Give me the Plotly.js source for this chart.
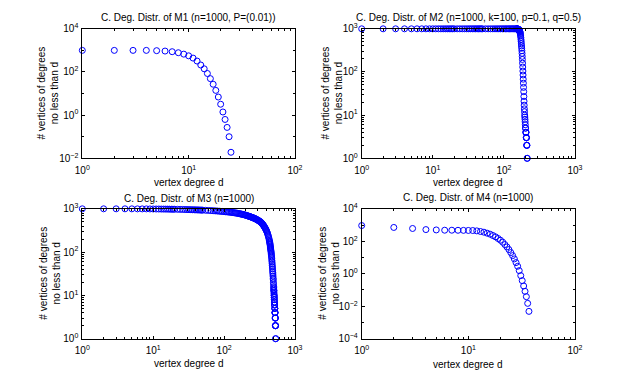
<!DOCTYPE html>
<html><head><meta charset="utf-8">
<script src="https://cdn.plot.ly/plotly-3.0.1.min.js"></script>
<style>html,body{margin:0;padding:0;background:#fff}#chart{width:635px;height:382px}</style>
</head><body><div id="chart"></div>
<script>
// ---------- data ----------
const m1Deg = [1,2,3,4,5,6,7,8,9,10,11,12,13,14,15,16,17,18,19,20,21,22,23,24,25];
const m1Count = [1000,1000,1000,1000,970,930,870,780,670,560,440,320,210,140,85,49,27,14,6.9,3.2,1.4,0.63,0.27,0.10,0.019];

const m2Deg = [1,2,3,4,5,6,7,8,9,10,11,12,13,14,15,16,17,18,19,20,
  22,24,26,28,30,32,34,36,38,40,42,44,46,48,50,
  55,60,65,70,75,80,85,90,95,100,105,110,115,120,125,130,135,140,145,150,
  151,152,153,154,155,156,157,158,159,160,161,162,163,164,165,166,167,168,169,170,
  171,172,173,174,175,176,177,178,179,180,181,182,183,184,185,186,187,188,189,190,
  191,192,193,194,195,196,197,198,199,200,201,202,203,204,205,206,207,208,209,210,
  211,212,213];
const m2Count = [1000,1000,1000,1000,1000,1000,1000,1000,1000,1000,1000,1000,1000,1000,1000,1000,1000,1000,1000,1000,
  1000,1000,1000,1000,1000,1000,1000,1000,1000,1000,1000,1000,1000,1000,1000,
  1000,1000,1000,1000,1000,1000,1000,1000,1000,1000,1000,1000,1000,1000,1000,1000,1000,1000,999,998,
  997,996,995,993,991,988,985,981,976,970,963,955,945,933,920,902,880,855,820,780,
  735,685,625,560,505,450,400,355,310,270,230,195,160,130,105,85,68,55,44,35,
  27,21,17,14,12,10,9,8,7,6,5,5,4,4,4,3,3,3,2,2,
  2,1,1];

const m3Deg = [1,2,3,4,5,6,7,8,9,10,11,12,13,14,15,16,17,18,19,20,
  22,24,26,28,30,32,34,36,38,40,42,44,46,48,50,
  55,60,65,70,75,80,85,90,95,100,105,110,115,120,125,130,135,140,145,150,
  155,160,165,170,175,180,185,190,195,200,205,210,215,220,225,230,235,240,245,250,
  255,260,265,270,275,280,285,290,295,300,305,310,315,320,325,330,335,340,345,350,
  355,360,365,370,375,380,385,390,395,400,405,410,415,420,425,430,435,438,
  440,442,444,446,448,450,452,454,456,458,460,462,464,466,468,470,472,474,476,478,480,
  482,484,486,488,490,492,494,496,498,500,
  501,502,503,504,505,506,507,508,509,510,511,512,513,514,515,516,517,518,519,520,
  521,522,523,524,525,526,527,528,529,530,531,532,533,534];
const m3Count = [1000,1000,999,999,998,997,996,995,993,991,989,988,986,985,983,982,980,978,977,975,
  972,969,966,963,960,957,954,951,948,945,942,939,936,933,930,
  923,916,909,902,895,888,881,874,867,860,854,848,842,836,830,823,816,809,802,795,
  787,779,771,763,755,747,739,731,723,715,706,697,688,679,670,662,654,646,638,630,
  622,614,606,598,590,581,572,563,554,545,536,527,518,509,500,488,476,464,452,440,
  426,412,398,384,370,356,342,328,314,300,284,268,251,235,219,203,186,177,
  170,162,154,146,138,130,124,118,112,106,100,94,88,82,76,70,64,59,54,49,45,
  41,37,34,31,28,25,23,20,18,16,
  15,14,13,13,12,11,10,10,9,9,8,8,7,7,6,6,6,5,5,5,
  4,4,4,4,3,3,3,3,2,2,2,2,1,1];

const m4Deg = [1,2,3,4,5,6,7,8,9,10,11,12,13,14,15,16,17,18,19,20,21,22,23,24,25,26,27,28,29,30,31,32,33,34,35,36,37];
const m4Count = [930,710,615,525,500,480,480,475,470,465,459,438,400,362,315,273,226,187,148,116,
  87.6,62.8,45,30.8,20.1,13.1,8.2,4.86,2.89,1.56,0.767,0.377,0.177,0.083,0.0387,0.015,0.00482];

// ---------- tick labels ----------
const xTicks2 = [1, 10, 100];
const xLabels2 = ['10<sup>0</sup>', '10<sup>1</sup>', '10<sup>2</sup>'];
const xTicks3 = [1, 10, 100, 1000];
const xLabels3 = ['10<sup>0</sup>', '10<sup>1</sup>', '10<sup>2</sup>', '10<sup>3</sup>'];
const yTicksM1 = [0.01, 1, 100, 10000];
const yLabelsM1 = ['10<sup>\u22122</sup>', '10<sup>0</sup>', '10<sup>2</sup>', '10<sup>4</sup>'];
const yTicks3 = [1, 10, 100, 1000];
const yLabels3 = ['10<sup>0</sup>', '10<sup>1</sup>', '10<sup>2</sup>', '10<sup>3</sup>'];
const yTicksM4 = [0.0001, 0.01, 1, 100, 10000];
const yLabelsM4 = ['10<sup>\u22124</sup>', '10<sup>\u22122</sup>', '10<sup>0</sup>', '10<sup>2</sup>', '10<sup>4</sup>'];

const plotTitles = [
  'C. Deg. Distr. of M1 (n=1000, P=(0.01))',
  'C. Deg. Distr. of M2 (n=1000, k=100, p=0.1, q=0.5)',
  'C. Deg. Distr. of M3 (n=1000)',
  'C. Deg. Distr. of M4 (n=1000)'
];
const xTitleText = 'vertex degree d';
const yTitleText = '# vertices of degrees<br>no less than d';

// ---------- layout ----------
const FONT = 'Liberation Sans, Arial, Helvetica, sans-serif';
const W = 635, H = 382;
const colL = [82.3 / W, 295 / W];
const colR = [361.7 / W, 575 / W];
const rowT = [1 - 158.3 / H, 1 - 28.8 / H];
const rowB = [1 - 338.7 / H, 1 - 208.8 / H];

function axis(domain, range, tickvals, ticktext, minorDtick, anchor, standoff) {
  return {
    type: 'log', domain: domain, range: range, autorange: false,
    tickmode: 'array', tickvals: tickvals, ticktext: ticktext,
    ticks: 'inside', ticklen: 3, tickwidth: 1, tickcolor: '#000',
    ticklabelstandoff: standoff,
    showline: true, linecolor: '#000', linewidth: 1, mirror: 'allticks',
    showgrid: false, zeroline: false, automargin: false, anchor: anchor,
    tickfont: {family: FONT, size: 10, color: '#000'},
    minor: {dtick: minorDtick, ticks: 'inside', ticklen: 2, tickcolor: '#000', tickwidth: 1, showgrid: false}
  };
}

const marker = {symbol: 'circle-open', size: 6, color: '#0000ff', line: {width: 1, color: '#0000ff'}};
function trace(x, y, xa, ya) {
  return {x: x, y: y, type: 'scatter', mode: 'markers', xaxis: xa, yaxis: ya,
    marker: marker, cliponaxis: false, hoverinfo: 'x+y', showlegend: false};
}

const data = [
  trace(m1Deg, m1Count, 'x', 'y'),
  trace(m2Deg, m2Count, 'x2', 'y2'),
  trace(m3Deg, m3Count, 'x3', 'y3'),
  trace(m4Deg, m4Count, 'x4', 'y4')
];

function ann(text, x, y, angle) {
  return {text: text, x: x, y: y, xref: 'paper', yref: 'paper', xanchor: 'center', yanchor: 'middle',
    showarrow: false, textangle: angle || 0, font: {family: FONT, size: 10, color: '#000'}};
}
const cx = d => (d[0] + d[1]) / 2;

const layout = {
  width: W, height: H, margin: {l: 0, r: 0, t: 0, b: 0},
  paper_bgcolor: '#fff', plot_bgcolor: '#fff', showlegend: false,
  font: {family: FONT, size: 10, color: '#000'},
  xaxis:  axis(colL, [0, 2], xTicks2, xLabels2, 'D1', 'y', 3),
  yaxis:  axis(rowT, [-2, 4], yTicksM1, yLabelsM1, 1, 'x', 1),
  xaxis2: axis(colR, [0, 3], xTicks3, xLabels3, 'D1', 'y2', 3),
  yaxis2: axis(rowT, [0, 3], yTicks3, yLabels3, 'D1', 'x2', 1),
  xaxis3: axis(colL, [0, 3], xTicks3, xLabels3, 'D1', 'y3', 2),
  yaxis3: axis(rowB, [0, 3], yTicks3, yLabels3, 'D1', 'x3', 1),
  xaxis4: axis(colR, [0, 2], xTicks2, xLabels2, 'D1', 'y4', 2),
  yaxis4: axis(rowB, [-4, 4], yTicksM4, yLabelsM4, 1, 'x4', 1),
  annotations: [
    ann(plotTitles[0], cx(colL), 1 - 17.3 / H),
    ann(plotTitles[1], cx(colR), 1 - 17.8 / H),
    ann(plotTitles[2], cx(colL), 1 - 198.3 / H),
    ann(plotTitles[3], cx(colR), 1 - 197.7 / H),
    ann(xTitleText, cx(colL), 1 - 182.7 / H),
    ann(xTitleText, cx(colR), 1 - 182.7 / H),
    ann(xTitleText, cx(colL), 1 - 363 / H),
    ann(xTitleText, cx(colR), 1 - 364 / H),
    ann(yTitleText, 47 / W, 1 - 93.5 / H, -90),
    ann(yTitleText, 331 / W, 1 - 93.5 / H, -90),
    ann(yTitleText, 50 / W, 1 - 273.7 / H, -90),
    ann(yTitleText, 329 / W, 1 - 273.7 / H, -90)
  ]
};

Plotly.newPlot('chart', data, layout, {staticPlot: true, displayModeBar: false});
</script>
</body></html>
